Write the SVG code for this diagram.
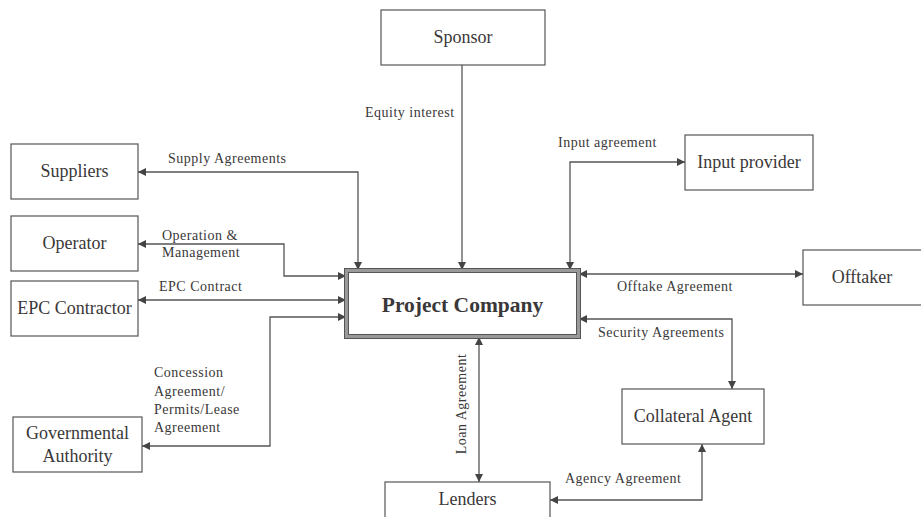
<svg xmlns="http://www.w3.org/2000/svg" width="921" height="517" viewBox="0 0 921 517">
<style>
.box{fill:#fff;stroke:#555;stroke-width:1.2}
.el{font-family:'Liberation Serif',serif;font-size:14px;letter-spacing:0.5px;fill:#3a3838}
.c{fill:none;stroke:#555;stroke-width:1.3}
</style>
<defs>
<marker id="ah" viewBox="0 0 10 10" refX="10" refY="5" markerWidth="9" markerHeight="8" markerUnits="userSpaceOnUse" orient="auto-start-reverse">
<path d="M0,0 L10,5 L0,10 z" fill="#444"/>
</marker>
</defs>
<rect width="921" height="517" fill="#fff"/>
<g id="connectors">
<path class="c" d="M358,270 V172 H138" marker-start="url(#ah)" marker-end="url(#ah)"/>
<path class="c" d="M138,244 H284 V276 H346" marker-start="url(#ah)" marker-end="url(#ah)"/>
<path class="c" d="M138,300 H346" marker-start="url(#ah)" marker-end="url(#ah)"/>
<path class="c" d="M346,317 H270 V446 H142" marker-start="url(#ah)" marker-end="url(#ah)"/>
<path class="c" d="M462,65 V270" marker-end="url(#ah)"/>
<path class="c" d="M685,162 H570 V270" marker-start="url(#ah)" marker-end="url(#ah)"/>
<path class="c" d="M579,274 H803" marker-start="url(#ah)" marker-end="url(#ah)"/>
<path class="c" d="M579,319 H732 V389" marker-start="url(#ah)" marker-end="url(#ah)"/>
<path class="c" d="M479,337 V482" marker-start="url(#ah)" marker-end="url(#ah)"/>
<path class="c" d="M550,500 H702 V444" marker-start="url(#ah)" marker-end="url(#ah)"/>
<text class="el" x="365" y="117">Equity interest</text>
<text class="el" x="168" y="163">Supply Agreements</text>
<text class="el" x="162" y="240">Operation &amp;</text>
<text class="el" x="162" y="257">Management</text>
<text class="el" x="159" y="291">EPC Contract</text>
<text class="el" x="154" y="377">Concession</text>
<text class="el" x="154" y="396">Agreement/</text>
<text class="el" x="154" y="414">Permits/Lease</text>
<text class="el" x="154" y="432">Agreement</text>
<text class="el" x="558" y="147">Input agreement</text>
<text class="el" x="617" y="291">Offtake Agreement</text>
<text class="el" x="598" y="337">Security Agreements</text>
<text class="el" x="565" y="483">Agency Agreement</text>
<text class="el" transform="translate(466,404) rotate(-90)" text-anchor="middle">Loan Agreement</text>
</g>
<g id="project-company">
<rect x="346" y="270" width="233" height="67" fill="#fff" stroke="#999" stroke-width="4"/>
<rect x="344.5" y="268.5" width="236" height="70" fill="none" stroke="#555" stroke-width="1"/>
<rect x="348.5" y="272.5" width="228" height="62" fill="none" stroke="#555" stroke-width="1"/>
<text x="462.5" y="312" font-family="Liberation Serif,serif" font-size="21.5px" font-weight="bold" fill="#3a3838" text-anchor="middle">Project Company</text>
</g>
<g id="sponsor"><rect class="box" x="381" y="10" width="164" height="55"/><text x="463" y="43" font-family="Liberation Serif,serif" font-size="18px" fill="#3a3838" text-anchor="middle">Sponsor</text></g>
<g id="suppliers"><rect class="box" x="11" y="144" width="127" height="55"/><text x="74.5" y="177" font-family="Liberation Serif,serif" font-size="18px" fill="#3a3838" text-anchor="middle">Suppliers</text></g>
<g id="operator"><rect class="box" x="11" y="216" width="127" height="55"/><text x="74.5" y="249" font-family="Liberation Serif,serif" font-size="18px" fill="#3a3838" text-anchor="middle">Operator</text></g>
<g id="epc-contractor"><rect class="box" x="11" y="281" width="127" height="55"/><text x="74.5" y="314" font-family="Liberation Serif,serif" font-size="18px" fill="#3a3838" text-anchor="middle">EPC Contractor</text></g>
<g id="governmental-authority"><rect class="box" x="13" y="417" width="129" height="55"/><text x="77.5" y="439" font-family="Liberation Serif,serif" font-size="18px" fill="#3a3838" text-anchor="middle">Governmental</text><text x="77.5" y="462" font-family="Liberation Serif,serif" font-size="18px" fill="#3a3838" text-anchor="middle">Authority</text></g>
<g id="input-provider"><rect class="box" x="685" y="135" width="128" height="55"/><text x="749" y="168" font-family="Liberation Serif,serif" font-size="18px" fill="#3a3838" text-anchor="middle">Input provider</text></g>
<g id="offtaker"><rect class="box" x="803" y="250" width="125" height="55"/><text x="862" y="283" font-family="Liberation Serif,serif" font-size="18px" fill="#3a3838" text-anchor="middle">Offtaker</text></g>
<g id="collateral-agent"><rect class="box" x="622" y="389" width="142" height="55"/><text x="693" y="422" font-family="Liberation Serif,serif" font-size="18px" fill="#3a3838" text-anchor="middle">Collateral Agent</text></g>
<g id="lenders"><rect class="box" x="385" y="482" width="165" height="50"/><text x="467.5" y="505" font-family="Liberation Serif,serif" font-size="18px" fill="#3a3838" text-anchor="middle">Lenders</text></g>
</svg>
